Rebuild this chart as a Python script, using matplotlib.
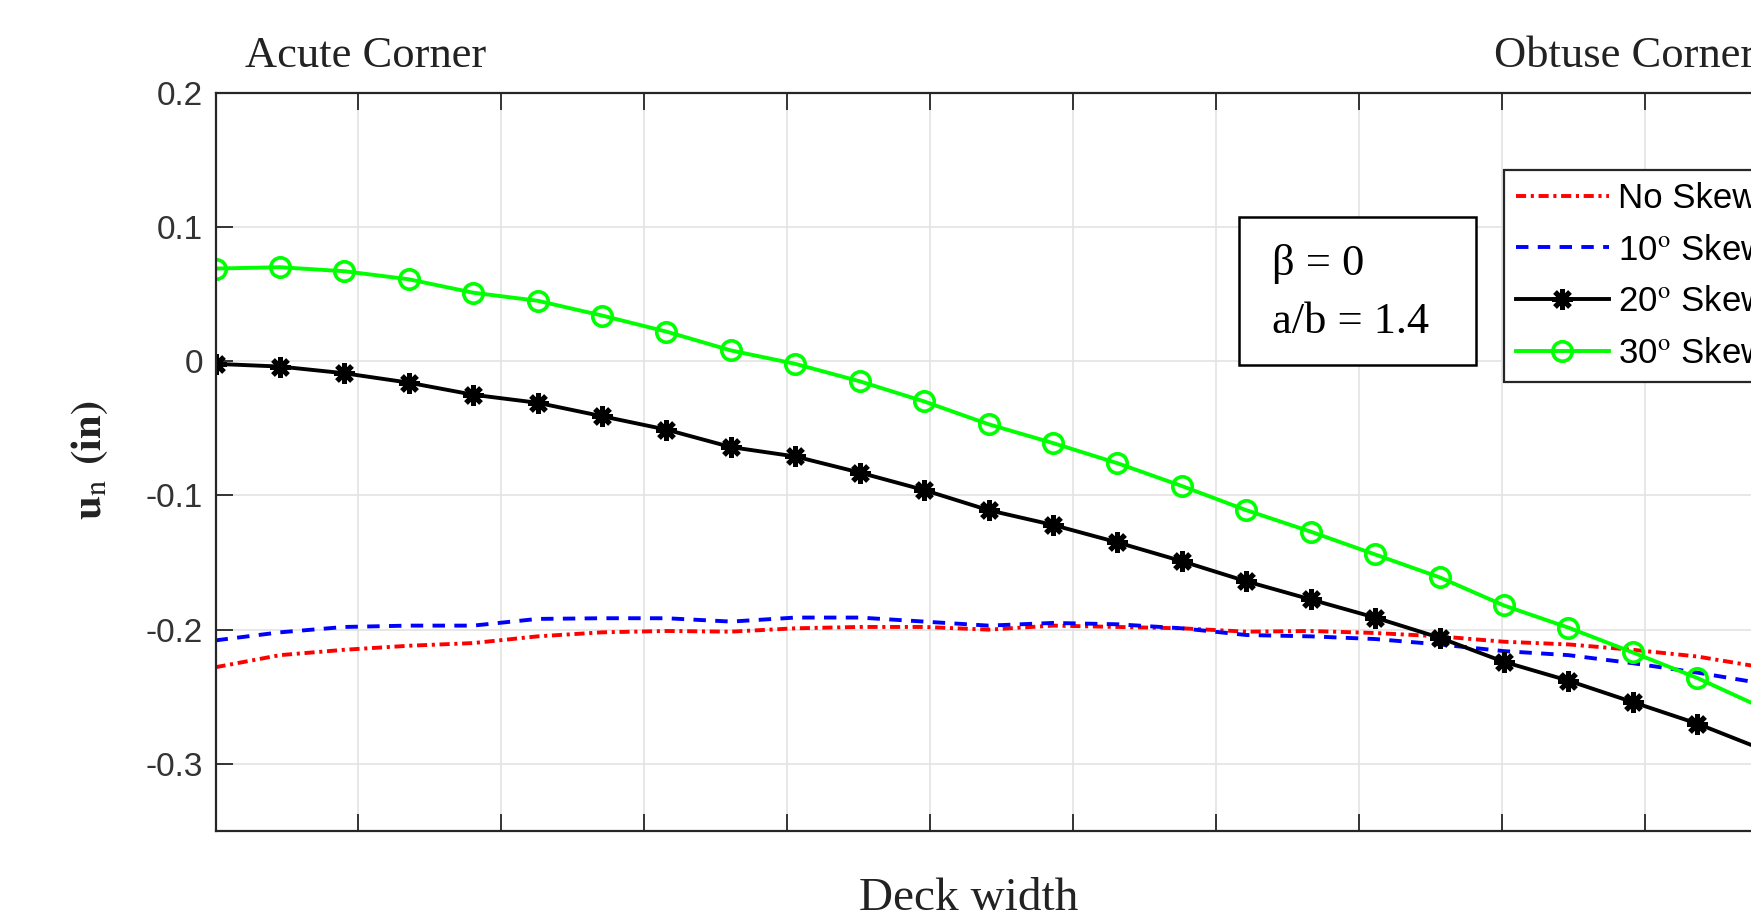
import matplotlib

matplotlib.use("Agg")

import matplotlib.pyplot as plt
import numpy as np
from matplotlib.patches import Rectangle

# stations across the deck width (grid units: one grid cell = 1)
station_step = 0.4508
n_stations = 25
x_nodes = np.arange(n_stations) * station_step

no_skew = [-0.228, -0.219, -0.215, -0.212, -0.210, -0.205, -0.202, -0.201,
           -0.2015, -0.199, -0.198, -0.198, -0.200, -0.197, -0.198, -0.199,
           -0.2015, -0.201, -0.2025, -0.205, -0.209, -0.211, -0.215, -0.220,
           -0.228]
skew_10 = [-0.208, -0.202, -0.198, -0.197, -0.197, -0.192, -0.1915, -0.1915,
           -0.194, -0.191, -0.191, -0.194, -0.197, -0.195, -0.196, -0.199,
           -0.204, -0.205, -0.207, -0.211, -0.216, -0.219, -0.225, -0.232,
           -0.240]
skew_20 = [-0.002, -0.004, -0.009, -0.016, -0.025, -0.031, -0.041, -0.051,
           -0.064, -0.071, -0.083, -0.096, -0.111, -0.122, -0.135, -0.149,
           -0.164, -0.1775, -0.191, -0.206, -0.224, -0.238, -0.254, -0.270,
           -0.289]
skew_30 = [0.069, 0.070, 0.067, 0.061, 0.051, 0.045, 0.034, 0.022, 0.008,
           -0.002, -0.015, -0.030, -0.047, -0.061, -0.076, -0.093, -0.111,
           -0.127, -0.144, -0.161, -0.182, -0.1985, -0.217, -0.236, -0.258]

labels = ["No Skew", r"10$^{\rm o}$ Skew", r"20$^{\rm o}$ Skew", r"30$^{\rm o}$ Skew"]
y_ticks = [-0.3, -0.2, -0.1, 0, 0.1, 0.2]
y_ticklabels = ["-0.3", "-0.2", "-0.1", "0", "0.1", "0.2"]

W, H = 1751, 917
plt.rcParams["mathtext.fontset"] = "stix"
plt.rcParams["axes.unicode_minus"] = False

fig = plt.figure(figsize=(W / 100, H / 100), dpi=100)
ax = fig.add_axes([215.5 / W, 86 / H, 1572 / W, 738.3 / H])

lw = 2.8
ax.plot(x_nodes, no_skew, color="red", lw=lw, ls=(0, (2.6, 1.2, 0.8, 1.2)),
        label=labels[0])
ax.plot(x_nodes, skew_10, color="blue", lw=lw, ls=(0, (3.2, 2.4)),
        label=labels[1])
ax.plot(x_nodes, skew_20, color="black", lw=lw, marker=(8, 2, 0),
        ms=15, mew=3.6, label=labels[2])
ax.plot(x_nodes, skew_30, color="#00ff00", lw=lw, marker="o", ms=14,
        mfc="none", mew=2.6, label=labels[3])

ax.set_xlim(0, 11)
ax.set_ylim(-0.35, 0.2)
ax.set_xticks(np.arange(0, 12))
ax.set_xticklabels([])
ax.set_yticks(y_ticks)
ax.set_yticklabels(y_ticklabels, family="Liberation Sans", fontsize=24,
                   color="#333333")
ax.tick_params(direction="in", length=12, width=1.3, top=True, right=True,
               pad=9, color="#262626")
ax.grid(True, color="#e3e3e3", lw=1.2)
ax.set_axisbelow(True)
for sp in ax.spines.values():
    sp.set_linewidth(1.6)
    sp.set_color("#262626")

leg = ax.legend(loc="upper left", bbox_to_anchor=(0.8197, 0.8957),
                borderaxespad=0, fancybox=False, framealpha=1,
                edgecolor="#262626", prop={"family": "Liberation Sans", "size": 25},
                handlelength=2.66, handletextpad=0.28, labelspacing=0.54,
                borderpad=0.35)
leg.get_frame().set_linewidth(1.6)

serif = "Liberation Serif"
fig.text(245 / W, 1 - 67 / H, "Acute Corner", family=serif, fontsize=32,
         ha="left", va="baseline", color="#222222")
fig.text(1494 / W, 1 - 67 / H, "Obtuse Corner", family=serif, fontsize=32,
         ha="left", va="baseline", color="#222222")
fig.text(969 / W, 1 - 910 / H, "Deck width", family=serif, fontsize=34,
         ha="center", va="baseline", color="#222222")
fig.text(89 / W, 1 - 460 / H, r"$\mathbf{u}_{\mathrm{n}}$ $\mathbf{(in)}$",
         fontsize=31, rotation=90, ha="center", va="center", color="#222222")

# annotation box
fig.add_artist(Rectangle((1239 / W, 1 - 365 / H), 237 / W, 148 / H,
                         transform=fig.transFigure, fill=True, fc="white",
                         ec="black", lw=1.8, zorder=5))
fig.text(1272 / W, 1 - 275 / H, "β = 0", family=serif, fontsize=32,
         ha="left", va="baseline", zorder=6)
fig.text(1272 / W, 1 - 333 / H, "a/b = 1.4", family=serif, fontsize=32,
         ha="left", va="baseline", zorder=6)

fig.savefig("out.png", dpi=100)
